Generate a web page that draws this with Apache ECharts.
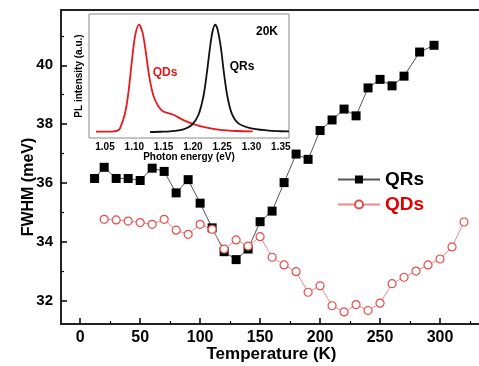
<!DOCTYPE html>
<html>
<head>
<meta charset="utf-8">
<script src="https://cdn.jsdelivr.net/npm/echarts@6/dist/echarts.min.js"></script>
<style>html,body{margin:0;padding:0;background:#fff}#c{width:479px;height:366px}</style>
</head>
<body>
<div id="c"></div>
<script>
// Main plot data: FWHM vs temperature
var qrTemp = [12,20,30,40,50,60,70,80,90,100,110,120,130,140,150,160,170,180,190,200,210,220,230,240,250,260,270,283,295];
var qrFwhm = [36.15,36.53,36.15,36.15,36.08,36.5,36.39,35.66,36.11,35.31,34.47,33.66,33.39,33.75,34.68,35.04,36.01,36.98,36.8,37.78,38.14,38.51,38.28,39.23,39.52,39.30,39.63,40.45,40.68];
var qdTemp = [20,30,40,50,60,70,80,90,100,110,120,130,140,150,160,170,180,190,200,210,220,230,240,250,260,270,280,290,300,310,320];
var qdFwhm = [34.76,34.74,34.70,34.65,34.59,34.76,34.39,34.25,34.59,34.42,33.75,34.06,33.85,34.17,33.47,33.21,32.98,32.28,32.50,31.82,31.61,31.86,31.66,31.91,32.57,32.79,33.0,33.21,33.41,33.82,34.67];
var xMajor = [0,50,100,150,200,250,300];
var xMinor = [25,75,125,175,225,275,325];
var yMajor = [32,34,36,38,40];
var yMinor = [33,35,37,39,41];

// Inset data: PL spectra at 20K
var qdPLenergy = [1.0346,1.05,1.065,1.072,1.0756,1.084,1.0898,1.0955,1.1012,1.108,1.1143,1.12,1.1257,1.1325,1.141,1.1496,1.1666,1.1837,1.2008,1.2236,1.2464,1.275,1.302];
var qdPLint    = [0.003,0.003,0.006,0.015,0.034,0.17,0.36,0.64,0.89,1.0,0.92,0.73,0.51,0.34,0.24,0.19,0.16,0.11,0.074,0.04,0.02,0.009,0.005];
var qrPLenergy = [1.127,1.145,1.161,1.1837,1.198,1.2094,1.2179,1.2236,1.2293,1.2333,1.2378,1.2418,1.2476,1.2532,1.2589,1.2664,1.2777,1.2976,1.326,1.349,1.364];
var qrPLint    = [0.0,0.002,0.006,0.025,0.065,0.158,0.33,0.54,0.79,0.93,1.0,0.96,0.79,0.54,0.33,0.17,0.08,0.037,0.015,0.007,0.005];
var insetXLabels = [1.05,1.10,1.15,1.20,1.25,1.30,1.35];
var insetYTicks = [0,0.2,0.4,0.6,0.8,1.0];

function pairs(a,b){return a.map(function(v,i){return [v,b[i]];});}

var FONT = 'Liberation Sans, Arial, sans-serif';
var noLine = {show:false, onZero:false};
var chart = echarts.init(document.getElementById('c'), null, {renderer:'canvas'});
chart.setOption({
  animation:false,
  backgroundColor:'#fff',
  textStyle:{fontFamily:FONT},
  grid:[
    {left:61, top:10, width:421, height:314, outerBoundsMode:'none', containLabel:false, show:true, borderColor:'#222', borderWidth:2, backgroundColor:'transparent'},
    {left:89, top:14, width:200, height:124, outerBoundsMode:'none', containLabel:false, show:true, borderColor:'#888', borderWidth:1, backgroundColor:'#fff', z:1}
  ],
  xAxis:[
    {gridIndex:0, type:'value', min:-16, max:335, position:'bottom',
     name:'Temperature (K)', nameLocation:'middle', nameGap:22, nameMoveOverlap:false,
     nameTextStyle:{fontSize:17, fontWeight:'bold', color:'#000', fontFamily:FONT},
     axisLine:noLine, splitLine:{show:false},
     axisTick:{show:true, inside:true, length:6, lineStyle:{color:'#000', width:1.5}, customValues:xMajor},
     axisLabel:{show:true, margin:6, fontSize:16, fontWeight:'bold', color:'#000', fontFamily:FONT, customValues:xMajor}},
    {gridIndex:0, type:'value', min:-16, max:335, position:'bottom', offset:0,
     axisLine:noLine, splitLine:{show:false}, axisLabel:{show:false},
     axisTick:{show:true, inside:true, length:3, lineStyle:{color:'#000', width:1.2}, customValues:xMinor}},
    {gridIndex:1, type:'value', min:1.0227, max:1.364, position:'bottom',
     name:'Photon energy (eV)', nameLocation:'middle', nameGap:14, nameMoveOverlap:false,
     nameTextStyle:{fontSize:10, fontWeight:'bold', color:'#000', fontFamily:FONT},
     axisLine:noLine, splitLine:{show:false},
     axisTick:{show:true, inside:true, length:3, lineStyle:{color:'#666'}, customValues:insetXLabels},
     axisLabel:{show:true, margin:4, fontSize:10, fontWeight:'bold', color:'#000', fontFamily:FONT, customValues:insetXLabels,
       formatter:function(v){return v.toFixed(2);}}}
  ],
  yAxis:[
    {gridIndex:0, type:'value', min:31.2, max:41.88, position:'left',
     axisLine:noLine, splitLine:{show:false},
     axisTick:{show:true, inside:true, length:6, lineStyle:{color:'#000', width:1.5}, customValues:yMajor},
     axisLabel:{show:true, margin:8, fontSize:15, fontWeight:'bold', color:'#000', fontFamily:FONT, customValues:yMajor}},
    {gridIndex:0, type:'value', min:31.2, max:41.88, position:'left', offset:0,
     axisLine:noLine, splitLine:{show:false}, axisLabel:{show:false},
     axisTick:{show:true, inside:true, length:3, lineStyle:{color:'#000', width:1.2}, customValues:yMinor}},
    {gridIndex:1, type:'value', min:-0.056, max:1.098, position:'left',
     name:'PL intensity (a.u.)', nameLocation:'middle', nameGap:5, nameRotate:90, nameMoveOverlap:false,
     nameTextStyle:{fontSize:10, fontWeight:'bold', color:'#000', fontFamily:FONT},
     axisLine:noLine, splitLine:{show:false}, axisLabel:{show:false},
     axisTick:{show:true, inside:true, length:3, lineStyle:{color:'#666'}, customValues:insetYTicks}}
  ],
  legend:{
    orient:'vertical', left:337, top:170, padding:0, itemGap:6,
    itemWidth:42, itemHeight:10,
    textStyle:{fontSize:19, fontWeight:'bold', fontFamily:FONT},
    data:[{name:'QRs', textStyle:{color:'#000'}},{name:'QDs', textStyle:{color:'#e00000'}}]
  },
  graphic:[
    {type:'text', x:29, y:187, rotation:Math.PI/2, z:10,
     style:{text:'FWHM (meV)', font:'bold 16px '+FONT, fill:'#000', textAlign:'center', textVerticalAlign:'middle'}},
    {type:'text', x:267, y:32, z:10, style:{text:'20K', font:'bold 12px '+FONT, fill:'#000', textAlign:'center', textVerticalAlign:'middle'}},
    {type:'text', x:242, y:67, z:10, style:{text:'QRs', font:'bold 12px '+FONT, fill:'#000', textAlign:'center', textVerticalAlign:'middle'}},
    {type:'text', x:165, y:73, z:10, style:{text:'QDs', font:'bold 12px '+FONT, fill:'#e8141a', textAlign:'center', textVerticalAlign:'middle'}}
  ],
  series:[
    {name:'QRs', type:'line', xAxisIndex:0, yAxisIndex:0, data:pairs(qrTemp,qrFwhm),
     symbol:'rect', symbolSize:9, itemStyle:{color:'#000'}, lineStyle:{color:'#555', width:1}},
    {name:'QDs', type:'line', xAxisIndex:0, yAxisIndex:0, data:pairs(qdTemp,qdFwhm),
     symbol:'circle', symbolSize:8, itemStyle:{color:'#fff', borderColor:'#e84a4a', borderWidth:1.2},
     lineStyle:{color:'#f08a8a', width:1}},
    {name:'QDs PL', type:'line', xAxisIndex:2, yAxisIndex:2, data:pairs(qdPLenergy,qdPLint),
     symbol:'none', smooth:0.3, lineStyle:{color:'#e8191f', width:1.8}, z:5},
    {name:'QRs PL', type:'line', xAxisIndex:2, yAxisIndex:2, data:pairs(qrPLenergy,qrPLint),
     symbol:'none', smooth:0.3, lineStyle:{color:'#111', width:1.8}, z:5}
  ]
});
</script>
</body>
</html>
